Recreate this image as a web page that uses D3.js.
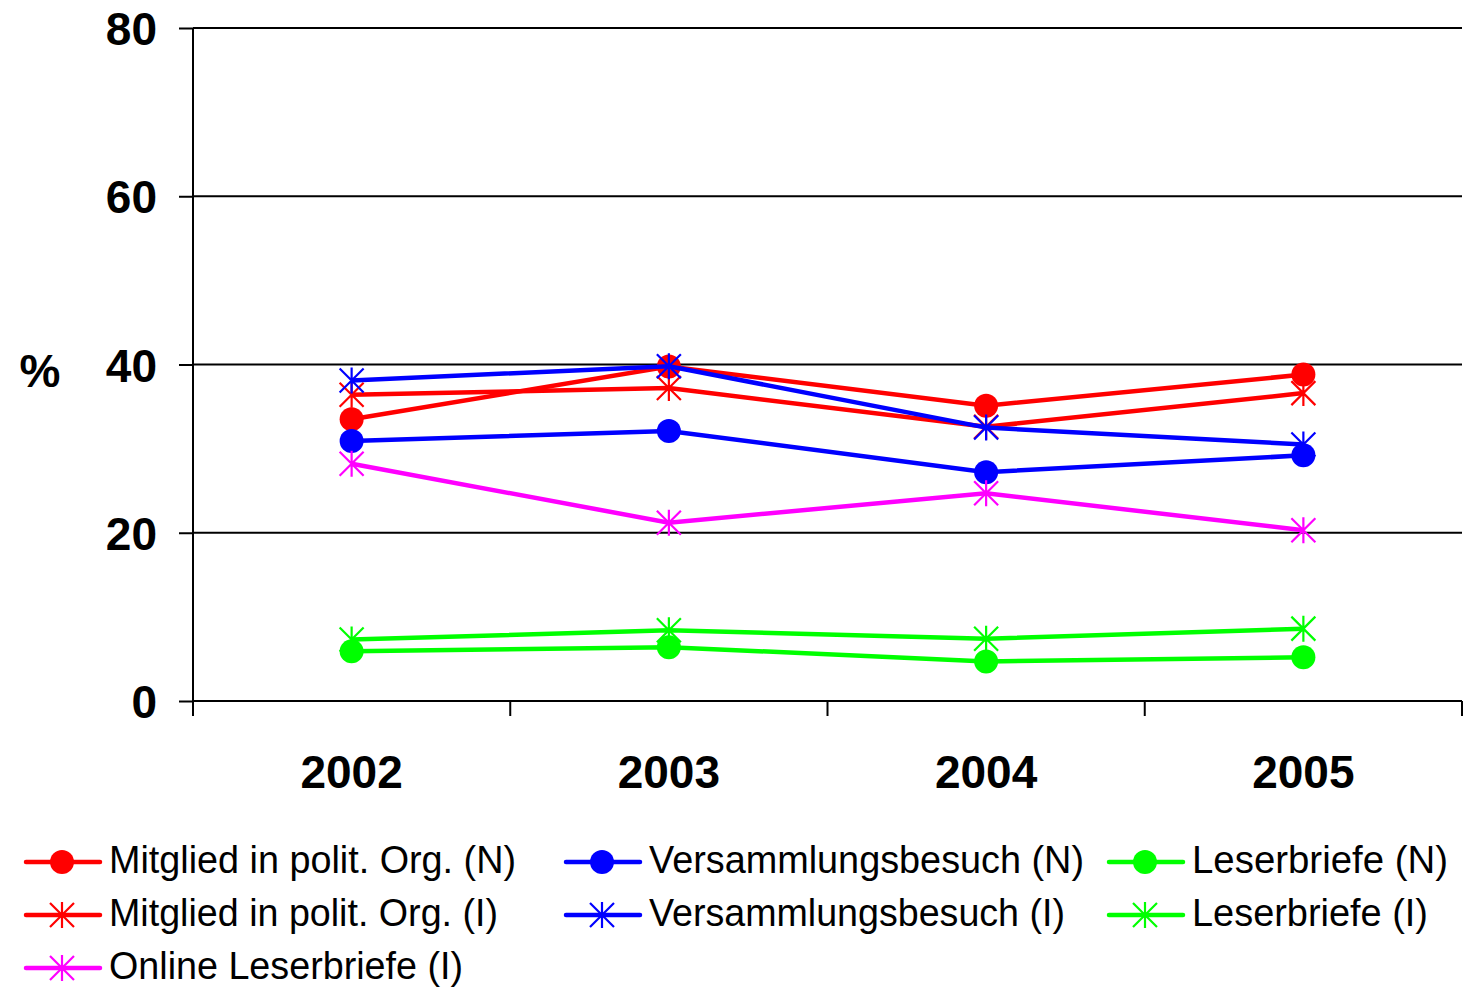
<!DOCTYPE html>
<html><head><meta charset="utf-8">
<script src="https://cdn.jsdelivr.net/npm/d3@7"></script>
<style>body{margin:0;background:#fff}svg{display:block}</style>
</head><body>
<svg id="c" width="1463" height="991"></svg>
<script>
const years = ["2002","2003","2004","2005"];
const yTicks = [0,20,40,60,80];
const mitgliedN = [33.5, 39.75, 35.1, 38.8];
const versammlungN = [30.9, 32.1, 27.2, 29.2];
const leserbriefeN = [5.9, 6.4, 4.7, 5.2];
const mitgliedI = [36.4, 37.2, 32.6, 36.6];
const versammlungI = [38.1, 39.8, 32.5, 30.5];
const leserbriefeI = [7.3, 8.4, 7.4, 8.6];
const onlineI = [28.2, 21.2, 24.7, 20.3];

const series = [
  {name:"Mitglied in polit. Org. (N)", values:mitgliedN, color:"#FF0000", marker:"circle"},
  {name:"Versammlungsbesuch (N)", values:versammlungN, color:"#0000FF", marker:"circle"},
  {name:"Leserbriefe (N)", values:leserbriefeN, color:"#00FF00", marker:"circle"},
  {name:"Mitglied in polit. Org. (I)", values:mitgliedI, color:"#FF0000", marker:"star"},
  {name:"Versammlungsbesuch (I)", values:versammlungI, color:"#0000FF", marker:"star"},
  {name:"Leserbriefe (I)", values:leserbriefeI, color:"#00FF00", marker:"star"},
  {name:"Online Leserbriefe (I)", values:onlineI, color:"#FF00FF", marker:"star"}
];

const svg = d3.select("#c");
const L = 193, R = 1462, T = 28, B = 701;
const x = d3.scaleBand().domain(years).range([L, R]).padding(0);
const y = d3.scaleLinear().domain([0, 80]).range([B, T]);
const font = "'Liberation Sans', Arial, sans-serif";

// gridlines
svg.append("g").selectAll("line").data(yTicks.filter(d => d > 0)).join("line")
  .attr("x1", L).attr("x2", R).attr("y1", d => y(d)).attr("y2", d => y(d))
  .attr("stroke", "#000").attr("stroke-width", 2);

// y axis
const ya = svg.append("g").attr("transform", `translate(${L},0)`)
  .call(d3.axisLeft(y).tickValues(yTicks).tickSize(14).tickPadding(22).tickFormat(d3.format("d")));
ya.select(".domain").attr("stroke-width", 2).attr("d", `M0,${B}V${T}`);
ya.selectAll(".tick line").attr("stroke-width", 2);
ya.selectAll("text").attr("font-family", font).attr("font-weight", "bold").attr("font-size", 46).attr("fill", "#000").attr("dy", "0.36em");

// x axis
const boundaries = years.map(d => x(d)).concat([R]);
const xa = svg.append("g").attr("transform", `translate(0,${B})`);
xa.append("line").attr("x1", L).attr("x2", R).attr("y1", 0).attr("y2", 0).attr("stroke", "#000").attr("stroke-width", 2);
xa.selectAll("line.tk").data(boundaries).join("line").attr("class", "tk")
  .attr("x1", d => d).attr("x2", d => d).attr("y1", 0).attr("y2", 15).attr("stroke", "#000").attr("stroke-width", 2);
xa.selectAll("text").data(years).join("text")
  .attr("x", d => x(d) + x.bandwidth() / 2).attr("y", 87)
  .attr("text-anchor", "middle").attr("font-family", font).attr("font-weight", "bold").attr("font-size", 46).text(d => d);

// % label
svg.append("text").attr("x", 40).attr("y", 387).attr("text-anchor", "middle")
  .attr("font-family", font).attr("font-weight", "bold").attr("font-size", 46).text("%");

const cx = d => x(d) + x.bandwidth() / 2;
const line = d3.line().x((v, i) => cx(years[i])).y(v => y(v));

function drawMarker(g, type, color, px, py) {
  if (type === "circle") {
    g.append("circle").attr("cx", px).attr("cy", py).attr("r", 12).attr("fill", color);
  } else {
    const s = 13, d = 12;
    const p = `M${px},${py - s}V${py + s}M${px - d},${py - d}L${px + d},${py + d}M${px - d},${py + d}L${px + d},${py - d}`;
    g.append("path").attr("d", p).attr("stroke", color).attr("stroke-width", 2.2).attr("fill", "none");
  }
}

const plot = svg.append("g");
series.forEach(s => {
  const g = plot.append("g");
  g.append("path").attr("d", line(s.values)).attr("fill", "none").attr("stroke", s.color).attr("stroke-width", 4.5);
  s.values.forEach((v, i) => drawMarker(g, s.marker, s.color, cx(years[i]), y(v)));
});

// legend
const legendPos = [
  {col:0,row:0,w:407},{col:1,row:0,w:435},{col:2,row:0,w:256},
  {col:0,row:1,w:389},{col:1,row:1,w:416},{col:2,row:1,w:236},
  {col:0,row:2,w:354}
];
const colX = [26, 566, 1109];
const rowY = [862, 915, 968];
const lg = svg.append("g");
series.forEach((s, i) => {
  const p = legendPos[i];
  const x0 = colX[p.col], yc = rowY[p.row];
  const g = lg.append("g");
  g.append("line").attr("x1", x0).attr("x2", x0 + 74).attr("y1", yc).attr("y2", yc)
    .attr("stroke", s.color).attr("stroke-width", 4.5).attr("stroke-linecap", "round");
  drawMarker(g, s.marker, s.color, x0 + 36, yc);
  g.append("text").attr("x", x0 + 83).attr("y", yc + 11).attr("font-family", font)
    .attr("font-size", 38).attr("textLength", p.w).attr("lengthAdjust", "spacingAndGlyphs")
    .attr("fill", "#000").text(s.name);
});
</script>
</body></html>
